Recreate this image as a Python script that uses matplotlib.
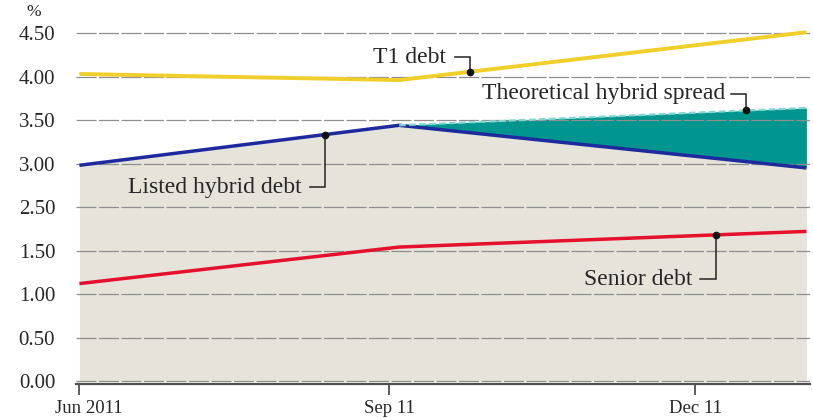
import numpy as np
import matplotlib
matplotlib.use("Agg")
import matplotlib.pyplot as plt
import matplotlib.dates as mdates
import matplotlib.transforms as mtransforms

# ---- data -------------------------------------------------------------
dates = np.array(["2011-06-01", "2011-09-04", "2012-01-03"], dtype="datetime64[D]")
t1_debt = [4.03, 3.96, 4.51]
listed_hybrid = [2.98, 3.44, 2.95]
senior_debt = [1.12, 1.58, 1.94]

spread_dates = np.array(["2011-09-04", "2012-01-03"], dtype="datetime64[D]")
theoretical_hybrid = [3.44, 3.64]

y_ticks = [0.0, 0.5, 1.0, 1.5, 2.5, 3.0, 3.5, 4.0, 4.5]
y_tick_labels = ["0.00", "0.50", "1.00", "1.50", "2.50", "3.00", "3.50", "4.00", "4.50"]
x_tick_dates = np.array(["2011-06-01", "2011-09-01", "2011-12-01"], dtype="datetime64[D]")
x_tick_labels = ["Jun 2011", "Sep 11", "Dec 11"]

# ---- style ------------------------------------------------------------
FONT = "Liberation Serif"
BEIGE = "#e6e4da"
TEAL = "#00968f"
TEAL_LIGHT = "#7fd8d2"
YELLOW = "#f0cf2a"
BLUE = "#1d2a9e"
RED = "#e5102b"
GRID = "#8e8e8e"
INK = "#262626"


# axis where the labelled gridlines sit at equal spacing
def _fwd(v):
    v = np.asarray(v, dtype=float)
    return np.where(v <= 1.5, v, np.where(v < 2.5, 1.5 + (v - 1.5) / 2.0, v - 0.5))


def _inv(a):
    a = np.asarray(a, dtype=float)
    return np.where(a <= 1.5, a, np.where(a < 2.0, 1.5 + (a - 1.5) * 2.0, a + 0.5))


fig = plt.figure(figsize=(8.13, 4.19), dpi=100)
ax = fig.add_axes([0.0935, 0.0845, 0.9025, 0.878])
ax.set_yscale("function", functions=(_fwd, _inv))

xd = mdates.date2num(dates)
xs = mdates.date2num(spread_dates)

# shaded area under the listed hybrid line
ax.fill_between(xd, 0, listed_hybrid, color=BEIGE, lw=0, zorder=1)

# theoretical spread band
blue_at_spread = np.interp(xs, xd, listed_hybrid)
ax.fill_between(xs, blue_at_spread, theoretical_hybrid, color=TEAL, lw=0, zorder=1.5)

# series lines
ax.plot(xd, t1_debt, color=YELLOW, lw=2.8, zorder=3, solid_capstyle="butt")
ax.plot(xd, listed_hybrid, color=BLUE, lw=2.5, zorder=3, solid_capstyle="butt")
ax.plot(xd, senior_debt, color=RED, lw=2.5, zorder=3, solid_capstyle="butt")
ax.plot(xs, theoretical_hybrid, color=TEAL_LIGHT, lw=1.6, ls=(0, (3, 1.5)), zorder=3)

# axes cosmetics
ax.set_xlim(mdates.date2num(np.datetime64("2011-05-31")),
            mdates.date2num(np.datetime64("2012-01-04")))
ax.set_ylim(-0.03, 4.7)
ax.set_yticks(y_ticks)
ax.set_yticklabels(y_tick_labels)
ax.set_xticks(mdates.date2num(x_tick_dates))
ax.set_xticklabels(x_tick_labels)

ax.set_axisbelow(False)
ax.grid(axis="y", color=GRID, lw=0.9, ls=(0, (16, 2)), zorder=2.5)
ax.grid(axis="x", visible=False)
for s in ["left", "right", "top"]:
    ax.spines[s].set_visible(False)
ax.spines["bottom"].set_color("#505050")
ax.spines["bottom"].set_linewidth(1.6)
ax.spines["bottom"].set_zorder(4)

ax.tick_params(axis="y", length=0, pad=15, labelsize=15, labelcolor=INK)
ax.tick_params(axis="x", length=8, width=1.3, color="#505050", pad=4,
               labelsize=13.5, labelcolor=INK)
for lab in ax.get_xticklabels() + ax.get_yticklabels():
    lab.set_fontfamily(FONT)

# nudge the first date label to the right of its tick
first = ax.get_xticklabels()[0]
first.set_transform(first.get_transform() +
                    mtransforms.ScaledTranslation(9 / 100, 0, fig.dpi_scale_trans))

fig.text(0.041, 0.972, "%", family=FONT, fontsize=12.5, color=INK, ha="center", va="center")


# callouts: label, short horizontal arm, vertical drop to a dot on the line
def callout(text, text_end, dot_date, line_x, line_y, y_arm):
    xt = mdates.date2num(np.datetime64(text_end))
    xdot = mdates.date2num(np.datetime64(dot_date))
    ydot = float(np.interp(xdot, line_x, line_y))
    x_arm = xdot - 4.5
    ax.plot([x_arm, xdot, xdot], [y_arm, y_arm, ydot], color="#222222", lw=1.1,
            zorder=5, solid_joinstyle="miter")
    ax.plot([xdot], [ydot], marker="o", ms=4.5, color="#111111", zorder=6)
    ax.text(xt, y_arm, text, family=FONT, fontsize=17, color=INK,
            ha="right", va="center", zorder=6)


callout("T1 debt", "2011-09-18", "2011-09-25", xd, t1_debt, 4.22)
callout("Theoretical hybrid spread", "2011-12-10", "2011-12-16", xs, theoretical_hybrid, 3.80)
callout("Listed hybrid debt", "2011-08-06", "2011-08-13", xd, listed_hybrid, 2.73)
callout("Senior debt", "2011-11-30", "2011-12-07", xd, senior_debt, 1.17)

fig.savefig("out.png", dpi=100)
